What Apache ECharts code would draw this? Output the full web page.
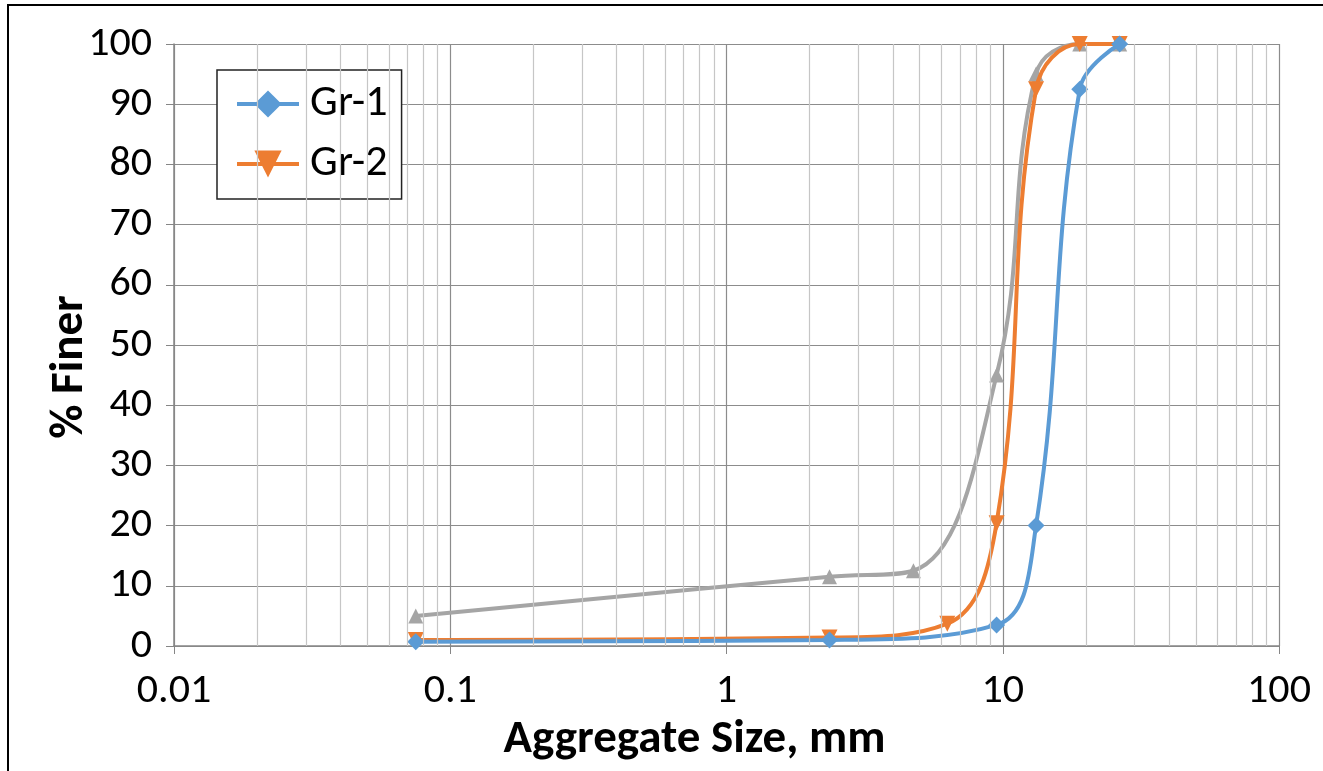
<!DOCTYPE html>
<html>
<head>
<meta charset="utf-8">
<style>
  html, body { margin: 0; padding: 0; background: #fff; }
  #chart { width: 1323px; height: 771px; }
</style>
<script src="https://cdn.jsdelivr.net/npm/echarts@6/dist/echarts.min.js"></script>
</head>
<body>
<div id="chart"></div>
<script>
// sieve sizes, mm
const sizesGr1 = [0.075, 2.36, 9.5, 13.2, 19, 26.5]
const finerGr1 = [0.7, 1.0, 3.5, 20, 92.5, 100]

const sizesGr2 = [0.075, 2.36, 6.3, 9.5, 13.2, 19, 26.5]
const finerGr2 = [1.0, 1.4, 3.7, 20.4, 92.5, 100, 100]

const sizesGr3 = [0.075, 2.36, 4.75, 9.5, 13.2, 19, 26.5]
const finerGr3 = [5, 11.5, 12.5, 45, 95, 100, 100]

const xTicks = [0.01, 0.1, 1, 10, 100]
// minor grid positions inside each decade
const minorX = [2, 3, 4, 5, 6, 7, 8, 9].flatMap(m => [0.01, 0.1, 1, 10].map(d => +(m * d).toPrecision(3)))

const colors = { gr1: '#5B9BD5', gr2: '#ED7D31', gr3: '#A5A5A5' }
const fontFamily = 'Carlito, "Open Sans", "Liberation Sans", sans-serif'

const zip = (xs, ys) => xs.map((x, i) => [x, ys[i]])

const chart = echarts.init(document.getElementById('chart'))

chart.setOption({
  animation: false,
  textStyle: { fontFamily },
  graphic: [{
    type: 'rect',
    shape: { x: 8, y: 5, width: 1330, height: 800 },
    style: { fill: 'none', stroke: '#000', lineWidth: 2 },
    silent: true
  }],
  grid: { left: 174, right: 44, top: 44, bottom: 125 },
  legend: {
    data: ['Gr-1', 'Gr-2'],
    orient: 'vertical',
    left: 217,
    top: 70,
    padding: [12, 14, 13, 18],
    itemGap: 16,
    itemWidth: 62,
    itemHeight: 34,
    borderColor: '#222',
    borderWidth: 1.5,
    backgroundColor: '#fff',
    lineStyle: { width: 4 },
    textStyle: { fontSize: 44, color: '#000', fontFamily, padding: [0, 0, 0, 6] }
  },
  xAxis: {
    type: 'log',
    logBase: 10,
    min: 0.01,
    max: 100,
    name: 'Aggregate Size, mm',
    nameLocation: 'middle',
    nameGap: 71,
    nameMoveOverlap: false,
    nameTextStyle: { fontSize: 47, fontWeight: 'bold', color: '#000', fontFamily, padding: [0, 64, 0, 0] },
    axisLine: { show: true, lineStyle: { color: '#868686', width: 1.5 } },
    axisTick: { show: true, length: 8, lineStyle: { color: '#868686' } },
    axisLabel: {
      fontSize: 42,
      color: '#000',
      margin: 24,
      formatter: v => {
        const m = xTicks.find(t => Math.abs(t - v) / t < 1e-6)
        return m === undefined ? '' : String(m)
      }
    },
    splitLine: { show: true, lineStyle: { color: '#8c8c8c', width: 1.2 } }
  },
  yAxis: {
    type: 'value',
    min: 0,
    max: 100,
    interval: 10,
    name: '% Finer',
    nameLocation: 'middle',
    nameGap: 80,
    nameMoveOverlap: false,
    nameTextStyle: { fontSize: 47, fontWeight: 'bold', color: '#000', fontFamily, padding: [0, 44, 0, 0] },
    axisLine: { show: true, lineStyle: { color: '#868686', width: 1.5 } },
    axisTick: { show: true, length: 8, lineStyle: { color: '#868686' } },
    axisLabel: { fontSize: 42, color: '#000', margin: 22 },
    splitLine: { show: true, lineStyle: { color: '#8c8c8c', width: 1.2 } }
  },
  series: [
    {
      name: 'grid-minor',
      type: 'line',
      data: [],
      silent: true,
      markLine: {
        silent: true,
        symbol: ['none', 'none'],
        label: { show: false },
        lineStyle: { color: '#c6c6c6', width: 1.2, type: 'solid' },
        data: minorX.map(x => ({ xAxis: x }))
      },
      z: 0
    },
    {
      name: 'Gr-3',
      type: 'line',
      data: zip(sizesGr3, finerGr3),
      smooth: 0.4,
      symbol: 'triangle',
      symbolSize: 15,
      lineStyle: { color: colors.gr3, width: 4 },
      itemStyle: { color: colors.gr3 },
      z: 2
    },
    {
      name: 'Gr-2',
      type: 'line',
      data: zip(sizesGr2, finerGr2),
      smooth: 0.4,
      symbol: 'triangle',
      symbolRotate: 180,
      symbolSize: 16,
      lineStyle: { color: colors.gr2, width: 4 },
      itemStyle: { color: colors.gr2 },
      z: 3
    },
    {
      name: 'Gr-1',
      type: 'line',
      data: zip(sizesGr1, finerGr1),
      smooth: 0.4,
      symbol: 'diamond',
      symbolSize: 17,
      lineStyle: { color: colors.gr1, width: 4 },
      itemStyle: { color: colors.gr1 },
      z: 4
    }
  ]
})
</script>
</body>
</html>
